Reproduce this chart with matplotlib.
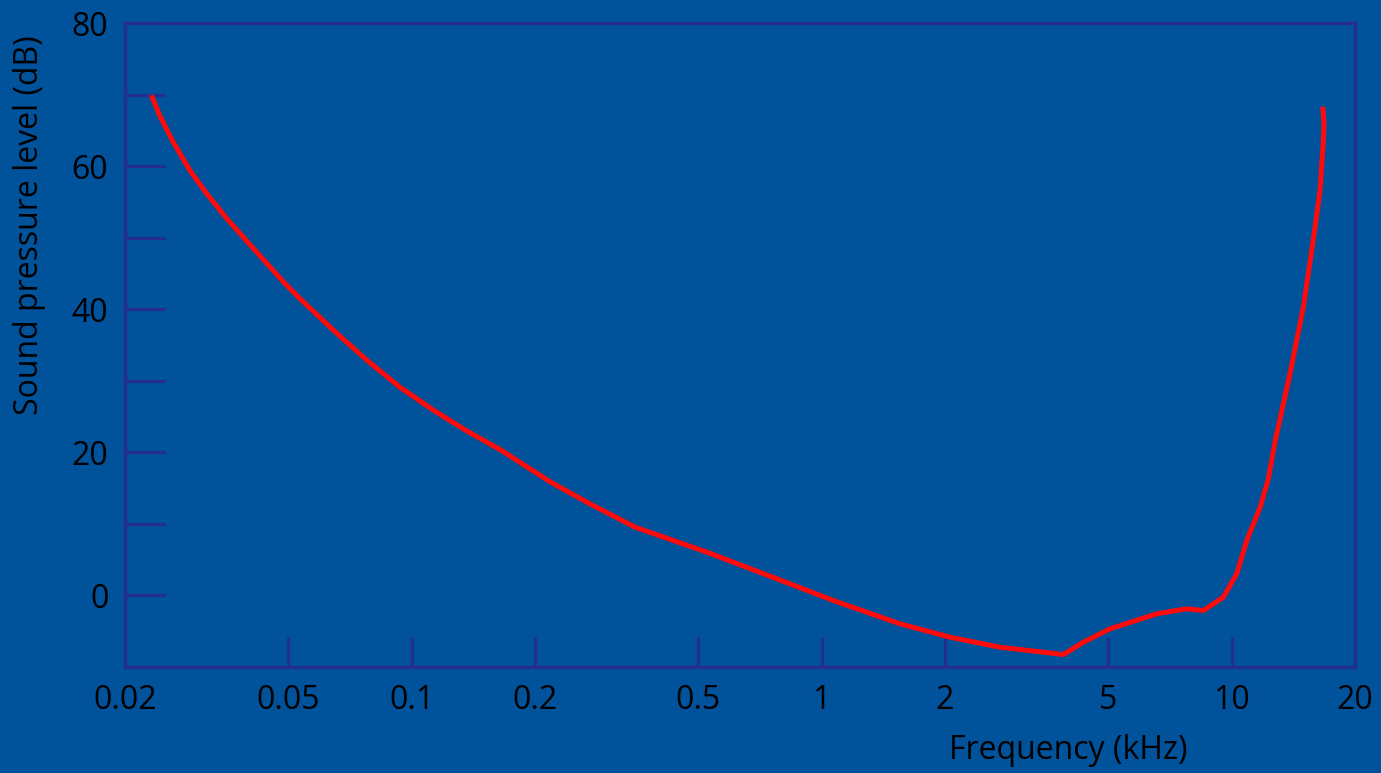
import matplotlib.pyplot as plt
from matplotlib.ticker import FixedLocator, FixedFormatter, NullLocator

# Threshold of hearing curve (frequency in kHz, level in dB)
freq_khz = [0.0232, 0.0243, 0.0262, 0.0288, 0.0316, 0.0354, 0.0404, 0.0491,
            0.0534, 0.0644, 0.0777, 0.0937, 0.1130, 0.1363, 0.1643, 0.2176,
            0.2724, 0.3508, 0.5246, 0.777, 1.068, 1.553, 2.057, 2.724,
            3.888, 4.35, 5.052, 6.568, 7.772, 8.532, 9.546, 10.29, 10.89,
            11.73, 12.29, 12.76, 13.88, 14.96, 15.82, 16.43, 16.74, 16.80,
            16.68]
level_db = [69.9, 67.1, 63.4, 59.4, 56.2, 52.7, 49.0, 43.6,
            41.5, 37.1, 32.9, 29.1, 25.9, 23.0, 20.4, 15.9,
            12.8, 9.55, 6.06, 2.34, -0.70, -3.96, -5.83, -7.23,
            -8.25, -6.53, -4.66, -2.56, -1.86, -2.10, -0.24, 3.03, 7.69,
            12.3, 16.3, 21.5, 31.0, 40.3, 49.7, 56.6, 63.6, 66.0,
            68.3]

x_ticks = [0.02, 0.05, 0.1, 0.2, 0.5, 1, 2, 5, 10, 20]
x_labels = ['0.02', '0.05', '0.1', '0.2', '0.5', '1', '2', '5', '10', '20']
y_ticks = [0, 10, 20, 30, 40, 50, 60, 70, 80]
y_labels = ['0', '', '20', '', '40', '', '60', '', '80']

bg = '#00529b'
frame = '#252d8e'

plt.rcParams['font.family'] = ['Open Sans', 'DejaVu Sans']

fig = plt.figure(figsize=(13.81, 7.73), dpi=100, facecolor=bg)
ax = fig.add_axes([0.0905, 0.1371, 0.8907, 0.8331], facecolor=bg)

ax.plot(freq_khz, level_db, color='#ff0a0a', linewidth=3.6,
        solid_capstyle='butt', solid_joinstyle='round')

ax.set_xscale('log')
ax.set_xlim(0.02, 20)
ax.set_ylim(-10, 80)

ax.xaxis.set_major_locator(FixedLocator(x_ticks))
ax.xaxis.set_major_formatter(FixedFormatter(x_labels))
ax.xaxis.set_minor_locator(NullLocator())
ax.yaxis.set_major_locator(FixedLocator(y_ticks))
ax.yaxis.set_major_formatter(FixedFormatter(y_labels))

ax.tick_params(axis='x', direction='in', length=21.6, width=2.2, color=frame,
               pad=12, labelsize=23, labelcolor='black')
ax.tick_params(axis='y', direction='in', length=28.8, width=2.2, color=frame,
               pad=12, labelsize=23, labelcolor='black')

for s in ax.spines.values():
    s.set_color(frame)
    s.set_linewidth(2.4)

fig.text(0.7734, 0.029, 'Frequency (kHz)', ha='center', va='center', fontsize=23)
fig.text(0.0217, 0.709, 'Sound pressure level (dB)', ha='center', va='center',
         rotation=90, fontsize=23)

fig.savefig('out.png', dpi=100, facecolor=bg)
